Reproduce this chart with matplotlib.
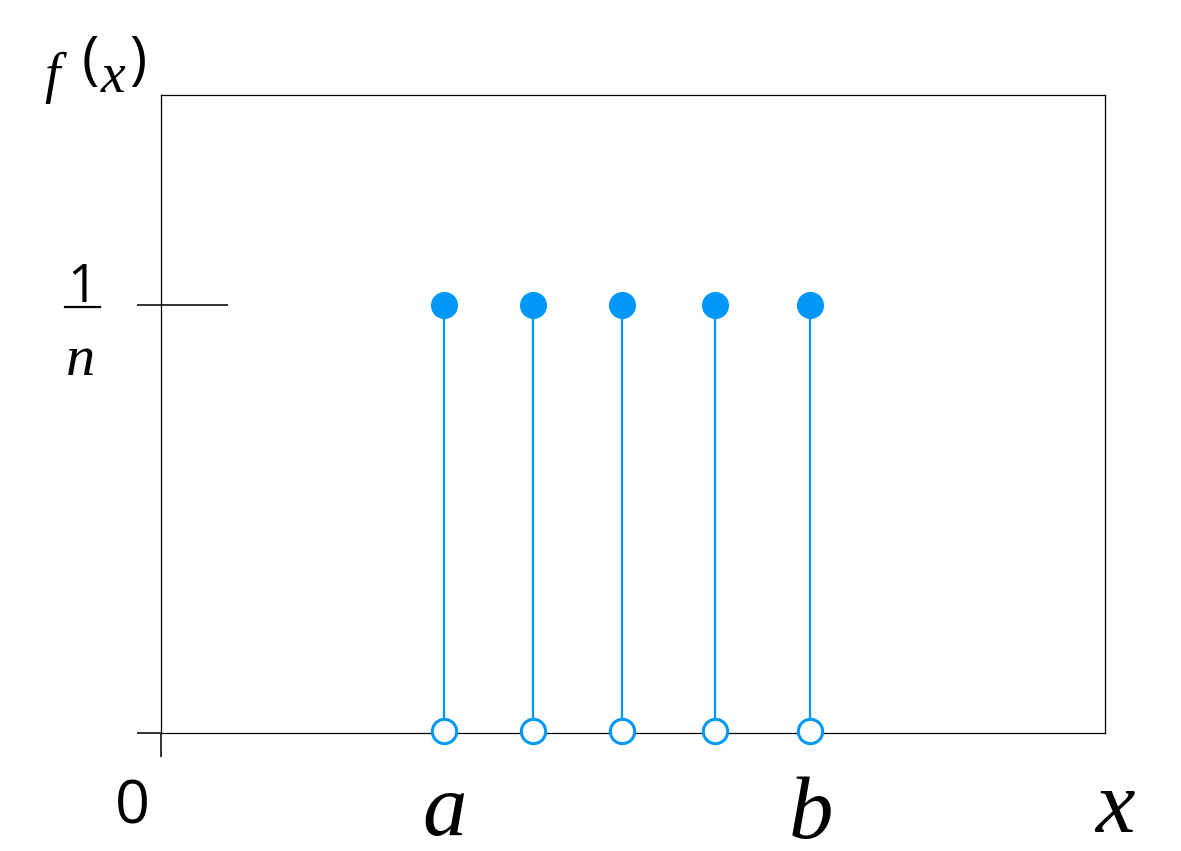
import numpy as np
import matplotlib
matplotlib.use("Agg")
import matplotlib.pyplot as plt
from matplotlib import transforms

# discrete uniform distribution: n equally likely points between a and b
xs = [3.0, 3.94, 4.88, 5.87, 6.88]
prob = [1.0, 1.0, 1.0, 1.0, 1.0]   # each point has height 1/n
xmax = 10.0
ymax = 1.49

blue = "#0098f8"
W, H = 1181, 851

fig = plt.figure(figsize=(W / 100, H / 100), dpi=100)
ax = fig.add_axes([161 / W, 1 - 733 / H, 944 / W, 638 / H])
ax.set_xlim(0, xmax)
ax.set_ylim(0, ymax)

for sp in ax.spines.values():
    sp.set_linewidth(0.9)
    sp.set_color("black")

ax.vlines(xs, 0, prob, color=blue, linewidth=1.6, zorder=3)
ax.plot(xs, prob, "o", color=blue, markersize=18.5, zorder=4, clip_on=False)
ax.plot(xs, np.full(len(xs), 0.004), "o", markerfacecolor="white", markeredgecolor=blue,
        markeredgewidth=2.2, markersize=17.5, zorder=4, clip_on=False)

# ticks: only at 0 on both axes, plus a long mark at 1/n
ax.set_xticks([0])
ax.set_yticks([0, 1])
ax.set_xticklabels([])
ax.set_yticklabels([])
ax.tick_params(axis="both", direction="out", length=17, width=1.4, color="#333333")
# inner part of the 1/n mark
ax.plot([0, 0.71], [1, 1], color="#333333", linewidth=1.4, solid_capstyle="butt", zorder=2)

serif = "Liberation Serif"
sans = "Open Sans"
bx = transforms.blended_transform_factory(ax.transData, ax.transAxes)

ax.text(-0.30, -0.142, "0", transform=bx, ha="center", va="baseline",
        fontsize=44, family=sans, color="black")
ax.text(xs[0], -0.160, "a", transform=bx, ha="center", va="baseline",
        fontsize=64, family=serif, style="italic")
ax.text(xs[-1], -0.165, "b", transform=bx, ha="center", va="baseline",
        fontsize=64, family=serif, style="italic")
ax.text(10.1, -0.155, "x", transform=bx, ha="center", va="baseline",
        fontsize=64, family=serif, style="italic")

def fx(px):
    return px / W

def fy(py):
    return 1 - py / H

# 1/n label
fig.text(fx(82), fy(302), "1", ha="center", va="baseline", fontsize=38, family=sans)
fig.add_artist(plt.Line2D([fx(65), fx(100)], [fy(307), fy(307)], color="black", linewidth=1.6))
fig.text(fx(81), fy(375), "n", ha="center", va="baseline", fontsize=42, family=serif, style="italic")

# f(x) label
fig.text(fx(52), fy(92), "f", ha="center", va="baseline", fontsize=40, family=serif, style="italic")
fig.text(fx(90), fy(63), "(", ha="center", va="center", fontsize=42, family=sans)
fig.text(fx(113), fy(92), "x", ha="center", va="baseline", fontsize=40, family=serif, style="italic")
fig.text(fx(138), fy(63), ")", ha="center", va="center", fontsize=42, family=sans)

fig.savefig("out.png", dpi=100)
